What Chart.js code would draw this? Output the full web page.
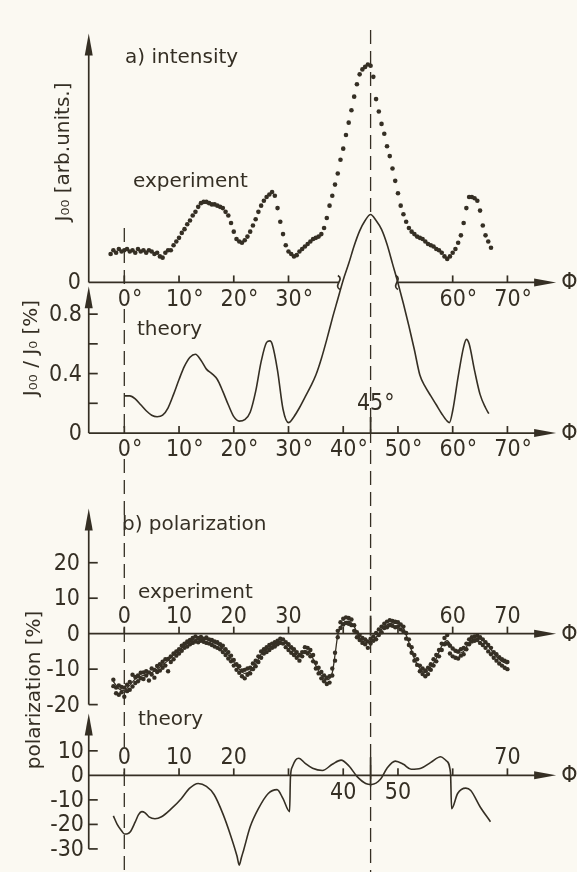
<!DOCTYPE html>
<html>
<head>
<meta charset="utf-8">
<script src="https://cdn.jsdelivr.net/npm/chart.js@4.4.1/dist/chart.umd.min.js"></script>
<style>
  html, body { margin: 0; background: #fbf9f2; }
  canvas { display: block; }
</style>
</head>
<body>
<canvas id="figure" width="577" height="872"></canvas>
<script>
// ---------- measured data ----------

// a) intensity, experiment: [phi (deg), J00 (arb. units)]
const intensityExp = [
  [-2.5,1.15],[-2,1.3],[-1.5,1.2],[-1,1.35],[-0.5,1.25],[0,1.3],[0.5,1.35],[1,1.25],[1.5,1.3],[2,1.2],
  [2.5,1.35],[3,1.25],[3.5,1.3],[4,1.2],[4.5,1.3],[5,1.25],[5.5,1.15],[6,1.2],[6.5,1.05],[7,1.0],
  [7.5,1.2],[8,1.3],[8.5,1.3],[9,1.5],[9.5,1.65],[10,1.8],[10.5,2.0],[11,2.15],[11.5,2.35],[12,2.5],
  [12.5,2.7],[13,2.85],[13.5,3.05],[14,3.2],[14.5,3.25],[15,3.25],[15.5,3.2],[16,3.15],[16.5,3.15],[17,3.1],
  [17.5,3.05],[18,3.0],[18.5,2.85],[19,2.7],[19.5,2.4],[20,2.05],[20.5,1.75],[21,1.65],[21.5,1.6],[22,1.7],
  [22.5,1.85],[23,2.05],[23.5,2.3],[24,2.55],[24.5,2.85],[25,3.1],[25.5,3.3],[26,3.45],[26.5,3.55],[27,3.65],
  [27.5,3.5],[28,3.0],[28.5,2.45],[29,1.95],[29.5,1.5],[30,1.25],[30.5,1.15],[31,1.05],[31.5,1.1],[32,1.25],
  [32.5,1.35],[33,1.45],[33.5,1.55],[34,1.65],[34.5,1.75],[35,1.8],[35.5,1.85],[36,1.95],[36.5,2.2],[37,2.6],
  [37.5,3.1],[38,3.5],[38.5,3.95],[39,4.4],[39.5,4.95],[40,5.4],[40.5,5.95],[41,6.45],[41.5,6.95],[42,7.5],
  [42.5,8.0],[43,8.4],[43.5,8.6],[44,8.7],[44.5,8.8],[45,8.75],[45.5,8.3],[46,7.4],[46.5,6.9],[47,6.4],
  [47.5,6.0],[48,5.5],[48.5,5.1],[49,4.6],[49.5,4.1],[50,3.6],[50.5,3.1],[51,2.75],[51.5,2.45],[52,2.2],
  [52.5,2.05],[53,1.95],[53.5,1.85],[54,1.8],[54.5,1.75],[55,1.65],[55.5,1.55],[56,1.5],[56.5,1.45],[57,1.35],
  [57.5,1.3],[58,1.2],[58.5,1.05],[59,0.95],[59.5,1.05],[60,1.2],[60.5,1.35],[61,1.6],[61.5,1.9],[62,2.4],
  [62.5,3.0],[63,3.45],[63.5,3.45],[64,3.4],[64.5,3.3],[65,2.9],[65.5,2.3],[66,1.9],[66.5,1.65],[67,1.4]
];

// a) intensity, theory: J00/J0 in %
const intensityTheoryPhi = [0,1,2,3,4,5,6,7,8,9,10,11,12,13,14,15,16,17,18,19,20,21,22,23,24,25,26,26.6,27,28,29,30,
  31,32,33,34,35,36,37,38,39,40,41,42,43,44,45,46,47,48,49,50,51,52,53,54,55,56,57,58,59,59.4,60,61,62,62.5,63,64,65,66,66.6];
const intensityTheoryVal = [0.25,0.25,0.23,0.19,0.15,0.12,0.11,0.12,0.17,0.26,0.36,0.45,0.51,0.53,0.49,0.43,0.40,0.36,0.28,0.19,0.11,0.08,0.09,0.14,0.28,0.48,0.61,0.62,0.60,0.42,0.16,0.07,
  0.11,0.17,0.24,0.31,0.39,0.50,0.63,0.77,0.90,1.03,1.14,1.26,1.36,1.43,1.47,1.43,1.37,1.27,1.14,1.01,0.87,0.72,0.56,0.39,0.31,0.25,0.19,0.13,0.08,0.07,0.15,0.38,0.58,0.63,0.60,0.42,0.26,0.17,0.13];

// b) polarization, experiment: [phi, point 1, point 2] in %
const polExpDots = [
  [-2,-13.0,-14.8],[-1.5,-15.2,-16.8],[-1,-14.6,-17.2],[-0.5,-16.5,-15.0],[0,-17.8,-15.2],[0.5,-16.2,-14.4],
  [1,-13.6,-15.8],[1.5,-11.6,-14.9],[2,-13.9,-12.2],[2.5,-11.8,-13.4],[3,-12.6,-11.0],[3.5,-10.9,-12.8],
  [4,-11.8,-10.6],[4.5,-13.2,-10.9],[5,-11.5,-9.8],[5.5,-10.2,-12.4],[6,-9.1,-10.8],[6.5,-8.6,-10.4],
  [7,-9.6,-7.9],[7.5,-7.2,-9.0],[8,-10.6,-7.1],[8.5,-6.4,-8.0],[9,-5.6,-7.2],[9.5,-5.0,-6.2],
  [10,-4.4,-5.6],[10.5,-3.4,-4.8],[11,-2.8,-4.0],[11.5,-2.2,-3.6],[12,-1.8,-3.0],[12.5,-1.2,-2.6],
  [13,-0.8,-2.2],[13.5,-1.2,-2.4],[14,-0.9,-2.0],[14.5,-1.4,-2.3],[15,-1.1,-2.6],[15.5,-1.6,-2.8],
  [16,-1.8,-3.2],[16.5,-2.2,-3.6],[17,-2.4,-4.0],[17.5,-3.0,-4.4],[18,-3.4,-5.2],[18.5,-4.4,-6.0],
  [19,-5.2,-7.0],[19.5,-6.2,-7.8],[20,-7.4,-9.0],[20.5,-8.6,-10.2],[21,-9.2,-11.0],[21.5,-10.4,-12.0],
  [22,-10.2,-12.6],[22.5,-9.8,-11.6],[23,-9.6,-11.2],[23.5,-8.4,-10.0],[24,-7.6,-9.2],[24.5,-6.4,-8.0],
  [25,-5.0,-6.8],[25.5,-4.4,-5.6],[26,-3.8,-5.2],[26.5,-3.2,-4.6],[27,-2.8,-4.0],[27.5,-2.4,-3.6],
  [28,-2.0,-3.0],[28.5,-1.4,-2.6],[29,-1.6,-2.8],[29.5,-2.4,-3.8],[30,-3.0,-4.6],[30.5,-3.8,-5.4],
  [31,-4.4,-6.0],[31.5,-5.2,-6.8],[32,-6.0,-7.6],[32.5,-5.2,-6.4],[33,-3.8,-5.2],[33.5,-4.0,-5.6],
  [34,-4.6,-6.4],[34.5,-6.0,-7.8],[35,-8.2,-9.8],[35.5,-9.6,-11.2],[36,-10.8,-12.6],[36.5,-11.8,-13.4],
  [37,-12.4,-14.2],[37.5,-12.0,-13.8],[38,-9.8,-11.8],[38.5,-5.4,-7.6],[39,-1.0,0.8],[39.5,1.6,3.2],
  [40,2.6,4.2],[40.5,3.0,4.6],[41,2.8,4.4],[41.5,2.4,4.0],[42,0.8,2.4],[42.5,-1.0,0.4],
  [43,-1.8,-0.4],[43.5,-2.6,-1.2],[44,-3.0,-1.6],[44.5,-4.0,-2.2],[45,-2.8,-1.4],[45.5,-2.0,-0.8],
  [46,-1.6,0.2],[46.5,-0.4,1.2],[47,0.4,2.0],[47.5,1.6,2.8],[48,1.8,3.4],[48.5,2.4,3.8],
  [49,2.2,3.6],[49.5,1.8,3.4],[50,2.0,3.2],[50.5,1.2,2.6],[51,0.6,2.0],[51.5,-1.4,0.2],
  [52,-3.2,-1.6],[52.5,-5.4,-3.8],[53,-7.6,-6.0],[53.5,-8.8,-7.2],[54,-10.6,-9.0],[54.5,-11.4,-9.8],
  [55,-12.0,-10.4],[55.5,-11.4,-9.6],[56,-10.2,-8.6],[56.5,-9.0,-7.2],[57,-7.8,-6.0],[57.5,-6.4,-4.6],
  [58,-4.6,-2.8],[58.5,-3.0,-1.2],[59,-0.4,-2.8],[59.5,-3.4,-5.6],[60,-4.2,-6.4],[60.5,-4.8,-6.8],
  [61,-5.0,-7.0],[61.5,-4.4,-6.2],[62,-4.0,-5.8],[62.5,-2.8,-4.4],[63,-1.6,-3.0],[63.5,-1.0,-2.2],
  [64,-0.8,-2.0],[64.5,-0.6,-1.8],[65,-1.0,-2.6],[65.5,-1.6,-3.2],[66,-2.4,-4.0],[66.5,-3.2,-5.0],
  [67,-4.0,-5.8],[67.5,-5.2,-6.8],[68,-5.8,-7.6],[68.5,-6.6,-8.4],[69,-7.2,-9.0],[69.5,-7.6,-9.6],
  [70,-8.0,-10.0]
];

// b) polarization, experiment: smoothed curve through the points
const polExpFitPhi = [-2,-1,0,1,2,3,4,5,6,7,8,9,10,11,12,13,14,15,16,17,18,19,20,21,22,23,24,25,26,27,28,29,30,
  31,32,33,34,35,36,37,38,38.5,39,40,41,42,43,44,45,46,47,48,49,50,51,52,53,54,55,56,57,58,59,60,61,62,63,64,65,66,67,68,69,70];
const polExpFitVal = [-13.5,-15.5,-16,-14.5,-12.8,-12,-11.5,-11,-10,-8.8,-7.6,-6,-4.8,-3.3,-2.3,-1.7,-1.5,-1.7,-2.3,-3,-4.2,-6,-8,-10,-11.2,-10.5,-8.5,-5.8,-4.5,-3.5,-2.5,-1.8,-3.5,
  -5,-6.5,-4.8,-5.5,-9,-11.8,-13,-11,-6,-0.5,3,3.5,2,-1.2,-2.3,-2.3,-1,1.2,2.5,3,2.8,1.5,-2.5,-7,-9.8,-11,-9.4,-7,-3.5,-2,-4.2,-5.5,-5,-2.5,-1.5,-1.5,-2.5,-4.5,-6.5,-7.8,-8.5];

// b) polarization, theory
const polTheoryPhi = [-2,-1.3,-0.5,0,0.6,1.1,2,2.6,3.2,3.8,4.5,5.6,6.8,8.6,10.4,11.9,13.5,15,16.4,18,19.5,20.6,21,21.4,21.8,23,24.5,26.3,27.9,29,30.2,
  30.35,30.7,31.3,31.9,33,34.4,36.2,38,39.6,41.1,42.5,44.1,45.2,46.8,48,49.5,51,52.4,54.2,56,57.8,58.8,59.6,59.8,60.9,62.4,63.3,65,66.9];
const polTheoryVal = [-16.5,-20,-22.6,-23.9,-23.8,-23,-19,-16,-14.8,-15.3,-16.9,-17.7,-16.9,-13.6,-9.5,-5.3,-3.3,-4.5,-7.8,-15.6,-25,-33,-36.6,-33.5,-30.5,-21,-13.6,-7.4,-5.8,-9.5,-14.8,
  -1,3.5,6.3,7,5,2.9,2,4.5,6.2,3.7,-0.4,-3.3,-3.7,-1.6,2.9,5.8,4.5,2.5,2.9,5.3,7.6,6,1,-13.6,-7.4,-5.2,-6.2,-12.8,-18.9];

// ---------- tick labels ----------
const intensityPhiLabels = [0, 10, 20, 30, 60, 70];
const theoryPhiLabels = [0, 10, 20, 30, 40, 50, 60, 70];
const theoryYTicks = [0.2, 0.4, 0.6, 0.8];
const theoryYLabels = [0, 0.4, 0.8];
const polPhiTicks = [0, 10, 20, 30, 40, 50, 60, 70];
const polExpPhiLabels = [0, 10, 20, 30, 60, 70];
const polExpYTicks = [20, 10, 0, -10, -20];
const polTheoryYTicks = [10, 0, -10, -20, -30];
const polTheoryLabelsAbove = [0, 10, 20, 70];
const polTheoryLabelsBelow = [40, 50];

// ---------- page geometry ----------
const W = 577, H = 872;
const PHI0_PX = 122, PX_PER_DEG = 5.55;       // x: where 0 deg sits, degrees -> px
const AXIS_PHI = -6.5, ARROW_PHI = 78.9;        // left axis line / arrow tip
// each panel: pixel row of its zero line and px per unit
const rows = {
  yA: { zero: 281, unit: 25 },
  yB: { zero: 433, unit: 150 },
  yC: { zero: 635.5, unit: 3.58 },
  yD: { zero: 778.5, unit: 2.475 }
};

const INK = '#352f24';
const WORD_FONT = '20px "DejaVu Sans", sans-serif';
const NUM_FONT = '23px "Liberation Sans Narrow", "DejaVu Sans Condensed", "Roboto Condensed", sans-serif';

function yRange(r) {
  return { min: -(H - r.zero) / r.unit, max: r.zero / r.unit };
}

const paperAxes = {
  id: 'paperAxes',
  beforeDatasetsDraw(chart) {
    const { ctx, scales } = chart;
    const X = v => scales.x.getPixelForValue(v);
    const Y = (id, v) => scales[id].getPixelForValue(v);
    const xL = X(AXIS_PHI), xR = X(ARROW_PHI);

    ctx.save();
    ctx.strokeStyle = INK;
    ctx.fillStyle = INK;
    ctx.lineWidth = 1.7;
    ctx.lineCap = 'butt';

    const line = (x1, y1, x2, y2) => {
      ctx.beginPath(); ctx.moveTo(x1, y1); ctx.lineTo(x2, y2); ctx.stroke();
    };
    const arrowRight = (tip, y) => {
      ctx.beginPath(); ctx.moveTo(tip, y); ctx.lineTo(tip - 22, y - 4); ctx.lineTo(tip - 22, y + 4); ctx.closePath(); ctx.fill();
    };
    const arrowUp = (x, tip) => {
      ctx.beginPath(); ctx.moveTo(x, tip); ctx.lineTo(x - 4, tip + 22); ctx.lineTo(x + 4, tip + 22); ctx.closePath(); ctx.fill();
    };
    const squiggle = (x, y) => {
      ctx.beginPath(); ctx.moveTo(x - 1, y - 7);
      ctx.bezierCurveTo(x + 6, y - 3, x - 6, y + 3, x + 1, y + 7); ctx.stroke();
    };
    const text = (s, x, y, align, base, font) => {
      ctx.font = font || NUM_FONT; ctx.textAlign = align; ctx.textBaseline = base;
      ctx.fillText(s, x, y);
    };
    const degLabel = (v, baseline) => {
      const s = String(v);
      ctx.font = NUM_FONT; ctx.textAlign = 'center'; ctx.textBaseline = 'alphabetic';
      ctx.fillText(s, X(v), baseline);
      const w = ctx.measureText(s).width;
      ctx.textAlign = 'left';
      ctx.fillText('\u00b0', X(v) + w / 2 + 1, baseline);
    };
    const phiLabel = y => text('\u03a6', xR + 5, y + 1, 'left', 'middle', NUM_FONT);
    const yTick = (id, v) => line(xL, Y(id, v), xL + 9, Y(id, v));
    const yLabel = (id, v, right) => text(String(v), right, Y(id, v) + 1, 'right', 'middle');

    // dashed guides at 0 deg and 45 deg
    ctx.save();
    ctx.setLineDash([14, 7]);
    ctx.lineWidth = 1.3;
    [[228, 284], [309, 433], [459, 606], [628, 752], [772, H]].forEach(s => line(X(0), s[0], X(0), s[1]));
    line(X(45), 30, X(45), H);
    ctx.restore();

    // --- a) intensity, experiment ---
    let y0 = Y('yA', 0);
    line(xL, y0, xL, Y('yA', 10.05) + 10);
    arrowUp(xL, Y('yA', 10.05));
    line(xL, y0, X(39.2), y0);
    squiggle(X(39.2), y0);
    squiggle(X(49.8), y0);
    line(X(49.8), y0, xR - 10, y0);
    arrowRight(xR, y0);
    intensityPhiLabels.forEach(v => { line(X(v), y0, X(v), y0 - 7); degLabel(v, y0 + 24); });
    text('0', 81, y0 + 1, 'right', 'middle');
    phiLabel(y0);

    // --- a) intensity, theory ---
    y0 = Y('yB', 0);
    line(xL, y0, xL, Y('yB', 0.987) + 10);
    arrowUp(xL, Y('yB', 0.987));
    line(xL, y0, xR - 10, y0);
    arrowRight(xR, y0);
    theoryYTicks.forEach(v => yTick('yB', v));
    theoryYLabels.forEach(v => yLabel('yB', v, 82));
    theoryPhiLabels.forEach(v => { line(X(v), y0, X(v), y0 - 7); degLabel(v, y0 + 23); });
    ctx.save(); ctx.lineWidth = 1.8; line(X(45), y0, X(45), y0 - 16); ctx.restore();
    text('45', X(42.5), y0 - 23, 'left', 'alphabetic');
    ctx.font = NUM_FONT;
    text('\u00b0', X(42.5) + ctx.measureText('45').width + 1, y0 - 23, 'left', 'alphabetic');
    phiLabel(y0);

    // --- b) polarization, experiment ---
    y0 = Y('yC', 0);
    line(xL, Y('yC', -20), xL, Y('yC', 35.3) + 10);
    arrowUp(xL, Y('yC', 35.3));
    line(xL, y0, xR - 10, y0);
    arrowRight(xR, y0);
    polExpYTicks.forEach(v => { if (v !== 0) yTick('yC', v); yLabel('yC', v, 80); });
    polPhiTicks.forEach(v => line(X(v), y0, X(v), y0 - 7));
    polExpPhiLabels.forEach(v => text(String(v), X(v), y0 - 11, 'center', 'alphabetic'));
    ctx.save(); ctx.lineWidth = 1.8; line(X(45), y0 + 2, X(45), y0 - 18); ctx.restore();
    phiLabel(y0);

    // --- b) polarization, theory ---
    y0 = Y('yD', 0);
    line(xL, Y('yD', -30), xL, Y('yD', 25.2) + 10);
    arrowUp(xL, Y('yD', 25.2));
    line(xL, y0, xR - 10, y0);
    arrowRight(xR, y0);
    polTheoryYTicks.forEach(v => { if (v !== 0) yTick('yD', v); yLabel('yD', v, 84); });
    polPhiTicks.forEach(v => line(X(v), y0, X(v), y0 - 7));
    polTheoryLabelsAbove.forEach(v => text(String(v), X(v), y0 - 11, 'center', 'alphabetic'));
    polTheoryLabelsBelow.forEach(v => text(String(v), X(v), y0 + 24, 'center', 'alphabetic'));
    ctx.save(); ctx.lineWidth = 1.8; line(X(45), y0 + 11, X(45), y0 - 18); ctx.restore();
    phiLabel(y0);

    // panel titles and captions
    text('a) intensity', 125, 63, 'left', 'alphabetic', WORD_FONT);
    text('experiment', 133, 187, 'left', 'alphabetic', WORD_FONT);
    text('theory', 137, 335, 'left', 'alphabetic', WORD_FONT);
    text('b) polarization', 122, 530, 'left', 'alphabetic', WORD_FONT);
    text('experiment', 138, 598, 'left', 'alphabetic', WORD_FONT);
    text('theory', 138, 725, 'left', 'alphabetic', WORD_FONT);

    // rotated axis titles
    const vtext = (s, cx, cy) => {
      ctx.save(); ctx.translate(cx, cy); ctx.rotate(-Math.PI / 2);
      text(s, 0, 0, 'center', 'middle', WORD_FONT);
      ctx.restore();
    };
    vtext('J\u2080\u2080 [arb.units.]', 64, 152);
    vtext('J\u2080\u2080 / J\u2080 [%]', 32, 348);
    vtext('polarization [%]', 35, 690);

    ctx.restore();
  }
};

const toPoints = (xs, ys) => xs.map((x, i) => ({ x, y: ys[i] }));
const polExpPoints = [];
polExpDots.forEach(r => {
  polExpPoints.push({ x: r[0], y: r[1] });
  polExpPoints.push({ x: r[0], y: r[2] });
});

const dotStyle = { showLine: false, pointRadius: 2.3, pointBorderWidth: 0, pointBackgroundColor: INK };
const curveStyle = { type: 'line', pointRadius: 0, borderColor: INK, borderWidth: 1.6, cubicInterpolationMode: 'monotone', fill: false };

new Chart(document.getElementById('figure'), {
  type: 'scatter',
  data: {
    datasets: [
      { label: 'intensity experiment', data: intensityExp.map(p => ({ x: p[0], y: p[1] })), yAxisID: 'yA', ...dotStyle },
      { label: 'intensity theory', data: toPoints(intensityTheoryPhi, intensityTheoryVal), yAxisID: 'yB', ...curveStyle },
      { label: 'polarization experiment', data: polExpPoints, yAxisID: 'yC', ...dotStyle, pointRadius: 2.2 },
      { label: 'polarization experiment fit', data: toPoints(polExpFitPhi, polExpFitVal), yAxisID: 'yC', ...curveStyle, borderWidth: 1.3 },
      { label: 'polarization theory', data: toPoints(polTheoryPhi, polTheoryVal), yAxisID: 'yD', ...curveStyle }
    ]
  },
  options: {
    responsive: false,
    animation: false,
    events: [],
    layout: { padding: 0 },
    plugins: { legend: { display: false }, tooltip: { enabled: false } },
    scales: {
      x: { type: 'linear', display: false, min: -PHI0_PX / PX_PER_DEG, max: (W - PHI0_PX) / PX_PER_DEG },
      yA: { type: 'linear', display: false, ...yRange(rows.yA) },
      yB: { type: 'linear', display: false, ...yRange(rows.yB) },
      yC: { type: 'linear', display: false, ...yRange(rows.yC) },
      yD: { type: 'linear', display: false, ...yRange(rows.yD) }
    }
  },
  plugins: [paperAxes]
});
</script>
</body>
</html>
